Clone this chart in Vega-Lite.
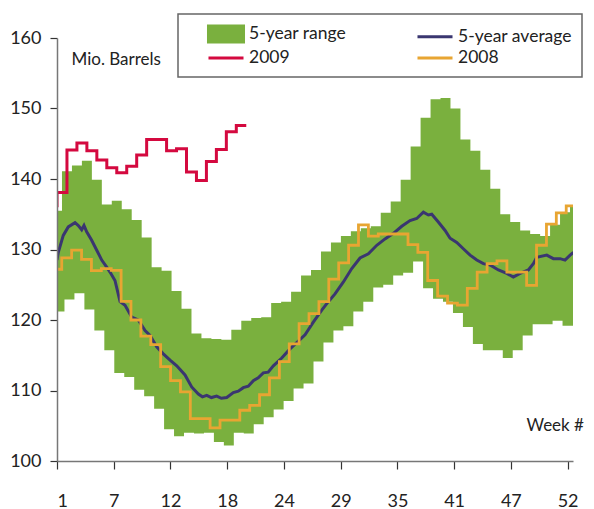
{
  "$schema": "https://vega.github.io/schema/vega-lite/v6.json",
  "autosize": {"type": "none"},
  "padding": {"left": 57, "top": 38, "right": 21, "bottom": 48},
  "width": 516,
  "height": 423,
  "background": "white",
  "config": {
    "view": {"stroke": null},
    "font": "Lato",
    "axis": {"grid": false, "zindex": 1},
    "legend": {"strokeWidth": 1.5}
  },
  "datasets": {
    "upper": [
      {"week": 1, "value": 135.5}, {"week": 2, "value": 141.1}, {"week": 3, "value": 141.9}, {"week": 4, "value": 142.6},
      {"week": 5, "value": 139.9}, {"week": 6, "value": 136.4}, {"week": 7, "value": 136.9}, {"week": 8, "value": 135.7},
      {"week": 9, "value": 134.2}, {"week": 10, "value": 131.7}, {"week": 11, "value": 127.5}, {"week": 12, "value": 127.0},
      {"week": 13, "value": 124.1}, {"week": 14, "value": 121.6}, {"week": 15, "value": 118.1}, {"week": 16, "value": 117.4},
      {"week": 17, "value": 117.3}, {"week": 18, "value": 117.2}, {"week": 19, "value": 118.6}, {"week": 20, "value": 119.9},
      {"week": 21, "value": 120.3}, {"week": 22, "value": 120.4}, {"week": 23, "value": 122.4}, {"week": 24, "value": 122.6},
      {"week": 25, "value": 124.0}, {"week": 26, "value": 126.3}, {"week": 27, "value": 127.1}, {"week": 28, "value": 129.7},
      {"week": 29, "value": 131.0}, {"week": 30, "value": 131.9}, {"week": 31, "value": 132.6}, {"week": 32, "value": 133.0},
      {"week": 33, "value": 133.3}, {"week": 34, "value": 135.2}, {"week": 35, "value": 136.8}, {"week": 36, "value": 139.9},
      {"week": 37, "value": 144.6}, {"week": 38, "value": 148.7}, {"week": 39, "value": 151.3}, {"week": 40, "value": 151.5},
      {"week": 41, "value": 150.0}, {"week": 42, "value": 145.6}, {"week": 43, "value": 144.0}, {"week": 44, "value": 141.3},
      {"week": 45, "value": 138.6}, {"week": 46, "value": 135.0}, {"week": 47, "value": 133.9}, {"week": 48, "value": 132.7},
      {"week": 49, "value": 132.2}, {"week": 50, "value": 131.9}, {"week": 51, "value": 133.5}, {"week": 52, "value": 135.3},
      {"week": 53, "value": 136.2}
    ],
    "lower": [
      {"week": 0.25, "value": 121.2}, {"week": 1.25, "value": 121.2}, {"week": 2.25, "value": 122.9}, {"week": 3.25, "value": 123.8},
      {"week": 4.25, "value": 121.5}, {"week": 5.25, "value": 118.5}, {"week": 6.25, "value": 115.7}, {"week": 7.25, "value": 112.5},
      {"week": 8.25, "value": 111.9}, {"week": 9.25, "value": 110.1}, {"week": 10.25, "value": 109.2}, {"week": 11.25, "value": 107.4},
      {"week": 12.25, "value": 104.5}, {"week": 13.25, "value": 103.5}, {"week": 14.25, "value": 104.0}, {"week": 15.25, "value": 103.9},
      {"week": 16.25, "value": 104.0}, {"week": 17.25, "value": 102.7}, {"week": 18.25, "value": 102.2}, {"week": 19.25, "value": 104.0},
      {"week": 20.25, "value": 103.9}, {"week": 21.25, "value": 105.2}, {"week": 22.25, "value": 106.2}, {"week": 23.25, "value": 107.3},
      {"week": 24.25, "value": 108.5}, {"week": 25.25, "value": 110.3}, {"week": 26.25, "value": 111.0}, {"week": 27.25, "value": 114.1},
      {"week": 28.25, "value": 116.8}, {"week": 29.25, "value": 118.5}, {"week": 30.25, "value": 119.1}, {"week": 31.25, "value": 121.2},
      {"week": 32.25, "value": 122.6}, {"week": 33.25, "value": 124.6}, {"week": 34.25, "value": 125.0}, {"week": 35.25, "value": 126.3},
      {"week": 36.25, "value": 126.7}, {"week": 37.25, "value": 128.3}, {"week": 38.25, "value": 124.5}, {"week": 39.25, "value": 123.0},
      {"week": 40.25, "value": 122.6}, {"week": 41.25, "value": 121.0}, {"week": 42.25, "value": 119.0}, {"week": 43.25, "value": 116.6},
      {"week": 44.25, "value": 115.7}, {"week": 45.25, "value": 115.7}, {"week": 46.25, "value": 114.6}, {"week": 47.25, "value": 115.7},
      {"week": 48.25, "value": 117.8}, {"week": 49.25, "value": 119.4}, {"week": 50.25, "value": 119.4}, {"week": 51.25, "value": 119.9},
      {"week": 52.25, "value": 119.2}, {"week": 53.25, "value": 119.2}
    ],
    "average": [
      {"week": 1.0, "value": 128.5}, {"week": 1.13, "value": 129.6}, {"week": 1.63, "value": 132.0}, {"week": 2.13, "value": 133.2},
      {"week": 2.81, "value": 133.8}, {"week": 3.14, "value": 133.4}, {"week": 3.48, "value": 132.8}, {"week": 3.71, "value": 133.4},
      {"week": 3.98, "value": 132.5}, {"week": 4.48, "value": 131.3}, {"week": 4.99, "value": 129.9}, {"week": 5.49, "value": 128.5},
      {"week": 5.99, "value": 127.5}, {"week": 6.32, "value": 126.8}, {"week": 6.82, "value": 125.6}, {"week": 7.33, "value": 122.6},
      {"week": 7.83, "value": 122.1}, {"week": 8.5, "value": 120.4}, {"week": 9.16, "value": 120.0}, {"week": 9.84, "value": 118.5},
      {"week": 10.34, "value": 117.8}, {"week": 11.01, "value": 116.2}, {"week": 11.67, "value": 115.2}, {"week": 12.35, "value": 114.3},
      {"week": 13.02, "value": 113.5}, {"week": 13.85, "value": 112.2}, {"week": 14.52, "value": 110.5}, {"week": 15.19, "value": 109.5},
      {"week": 15.6, "value": 109.1}, {"week": 16.03, "value": 109.3}, {"week": 16.5, "value": 109.0}, {"week": 17.03, "value": 109.2},
      {"week": 17.5, "value": 108.9}, {"week": 18.04, "value": 109.0}, {"week": 18.7, "value": 109.7},
      {"week": 19.2, "value": 109.9}, {"week": 19.7, "value": 110.4}, {"week": 20.2, "value": 110.6}, {"week": 20.71, "value": 111.4},
      {"week": 21.2, "value": 111.8}, {"week": 21.71, "value": 112.5}, {"week": 22.2, "value": 112.6}, {"week": 22.72, "value": 113.5},
      {"week": 23.56, "value": 114.6}, {"week": 24.39, "value": 115.9}, {"week": 25.23, "value": 117.0}, {"week": 25.9, "value": 117.9},
      {"week": 26.73, "value": 119.7}, {"week": 27.58, "value": 121.4}, {"week": 28.24, "value": 122.6}, {"week": 28.91, "value": 123.7},
      {"week": 29.75, "value": 125.4}, {"week": 30.59, "value": 127.3}, {"week": 31.42, "value": 128.8}, {"week": 32.26, "value": 129.4},
      {"week": 33.1, "value": 130.6}, {"week": 33.93, "value": 131.5}, {"week": 34.77, "value": 132.3}, {"week": 35.61, "value": 133.3},
      {"week": 36.44, "value": 134.1}, {"week": 37.11, "value": 134.4}, {"week": 37.78, "value": 135.3}, {"week": 38.28, "value": 134.9},
      {"week": 38.62, "value": 135.0}, {"week": 39.28, "value": 133.9}, {"week": 39.96, "value": 132.7}, {"week": 40.46, "value": 131.6},
      {"week": 41.13, "value": 131.0}, {"week": 41.79, "value": 130.1}, {"week": 42.47, "value": 129.2}, {"week": 43.14, "value": 128.5},
      {"week": 43.8, "value": 128.0}, {"week": 44.47, "value": 127.8}, {"week": 45.31, "value": 127.1}, {"week": 46.15, "value": 126.6},
      {"week": 46.81, "value": 126.1}, {"week": 47.49, "value": 126.6}, {"week": 48.32, "value": 127.1}, {"week": 48.82, "value": 128.0},
      {"week": 49.16, "value": 128.9}, {"week": 50.17, "value": 129.2}, {"week": 50.83, "value": 128.7}, {"week": 51.5, "value": 128.7},
      {"week": 52.0, "value": 128.5}, {"week": 52.51, "value": 129.2}, {"week": 52.84, "value": 129.6}
    ],
    "y2008": [
      {"week": 0.98, "value": 127.2}, {"week": 1.97, "value": 128.8}, {"week": 2.97, "value": 129.9}, {"week": 3.96, "value": 128.6},
      {"week": 4.95, "value": 127.0}, {"week": 5.95, "value": 127.3}, {"week": 6.94, "value": 127.05}, {"week": 7.93, "value": 122.65},
      {"week": 8.92, "value": 120.0}, {"week": 9.92, "value": 117.7}, {"week": 10.91, "value": 116.5}, {"week": 11.9, "value": 113.4},
      {"week": 12.9, "value": 111.4}, {"week": 13.89, "value": 109.8}, {"week": 14.88, "value": 106.0}, {"week": 15.87, "value": 106.0},
      {"week": 16.87, "value": 104.7}, {"week": 17.86, "value": 105.8}, {"week": 18.85, "value": 105.8}, {"week": 19.85, "value": 107.2},
      {"week": 20.84, "value": 107.9}, {"week": 21.83, "value": 109.4}, {"week": 22.83, "value": 111.8}, {"week": 23.82, "value": 114.1},
      {"week": 24.81, "value": 116.6}, {"week": 25.8, "value": 119.5}, {"week": 26.8, "value": 120.9}, {"week": 27.79, "value": 122.6},
      {"week": 28.78, "value": 125.8}, {"week": 29.78, "value": 128.1}, {"week": 30.77, "value": 130.6}, {"week": 31.76, "value": 133.5},
      {"week": 32.76, "value": 131.9}, {"week": 33.75, "value": 132.2}, {"week": 34.74, "value": 132.2}, {"week": 35.74, "value": 132.2},
      {"week": 36.73, "value": 130.7}, {"week": 37.72, "value": 129.6}, {"week": 38.71, "value": 125.6}, {"week": 39.71, "value": 123.4},
      {"week": 40.7, "value": 122.4}, {"week": 41.69, "value": 122.1}, {"week": 42.69, "value": 124.5}, {"week": 43.68, "value": 126.8},
      {"week": 44.67, "value": 128.0}, {"week": 45.67, "value": 128.4}, {"week": 46.66, "value": 126.8}, {"week": 47.65, "value": 126.8},
      {"week": 48.64, "value": 124.9}, {"week": 49.64, "value": 130.6}, {"week": 50.63, "value": 133.6}, {"week": 51.62, "value": 135.2},
      {"week": 52.62, "value": 136.2}, {"week": 52.85, "value": 136.2}
    ],
    "y2009": [
      {"week": 1, "value": 136.0}, {"week": 1, "value": 138.1}, {"week": 2, "value": 144.1}, {"week": 3, "value": 145.1},
      {"week": 4, "value": 144.0}, {"week": 5, "value": 142.7}, {"week": 6, "value": 141.6}, {"week": 7, "value": 140.9},
      {"week": 8, "value": 141.8}, {"week": 9, "value": 143.4}, {"week": 10, "value": 145.6}, {"week": 11, "value": 145.6},
      {"week": 12, "value": 144.0}, {"week": 13, "value": 144.3}, {"week": 14, "value": 141.0}, {"week": 15, "value": 139.8},
      {"week": 16, "value": 142.5}, {"week": 17, "value": 144.2}, {"week": 18, "value": 146.7}, {"week": 19, "value": 147.6},
      {"week": 20, "value": 147.6}
    ]
  },
  "encoding": {
    "x": {
      "field": "week", "type": "quantitative",
      "scale": {"domain": [1, 52.8], "nice": false, "zero": false},
      "axis": {
        "zindex": 2,
        "values": [1, 6.695, 12.39, 18.085, 23.78, 29.475, 35.17, 40.865, 46.56, 52.255],
        "labelExpr": "['1','7','12','18','24','29','35','41','47','52'][round((datum.value-1)/5.695)]",
        "title": "Week #",
        "titleX": 469, "titleY": -31, "titleAlign": "left", "titleAnchor": null, "titleBaseline": "alphabetic",
        "titleFont": "Lato", "titleFontSize": 17, "titleFontWeight": "normal", "titleColor": "#222",
        "labelFont": "Lato", "labelFontSize": 18, "labelColor": "#222", "labelPadding": 23,
        "tickSize": 8, "tickColor": "#333", "domainColor": "#777", "domainWidth": 1.5, "tickWidth": 1.2
      }
    },
    "y": {
      "field": "value", "type": "quantitative",
      "scale": {"domain": [100, 160], "nice": false, "zero": false},
      "axis": {
        "zindex": 2,
        "values": [100, 110, 120, 130, 140, 150, 160],
        "title": "Mio. Barrels",
        "titleAngle": 0, "titleX": 14, "titleY": 26, "titleAlign": "left", "titleAnchor": null, "titleBaseline": "alphabetic",
        "titleFont": "Lato", "titleFontSize": 17, "titleFontWeight": "normal", "titleColor": "#222",
        "labelFont": "Lato", "labelFontSize": 18, "labelColor": "#222", "labelPadding": 9,
        "tickSize": 7, "tickColor": "#333", "domainColor": "#777", "domainWidth": 1.5, "tickWidth": 1.2
      }
    }
  },
  "layer": [
    {
      "data": {"name": "upper"},
      "mark": {"type": "area", "interpolate": "step", "clip": true},
      "encoding": {
        "y2": {"datum": 100},
        "color": {
          "datum": "5-year range",
          "scale": {
            "domain": ["5-year range", "5-year average", "2009", "2008"],
            "range": ["#7AB03E", "#3A3670", "#D4093F", "#E8A532"]
          },
          "legend": {
            "title": "\u00a0",
            "titleOrient": "left",
            "titlePadding": 28,
            "titleFontSize": 17,
            "orient": "none",
            "legendX": 121,
            "legendY": -24,
            "direction": "horizontal",
            "columns": 2,
            "columnPadding": 64,
            "rowPadding": 0,
            "padding": 10,
            "strokeColor": "#666",
            "labelFont": "Lato",
            "labelFontSize": 17.5,
            "labelColor": "#222",
            "labelOffset": 13,
            "labelLimit": 300,
            "symbolSize": 289,
            "symbolStrokeWidth": 3,
            "encode": {
              "symbols": {
                "update": {
                  "shape": {"signal": "datum.value === '5-year range' ? 'M-2.06,-0.94H2.06V0.94H-2.06Z' : 'M-2.06,0H2.06'"},
                  "fill": {"signal": "datum.value === '5-year range' ? '#7AB03E' : 'transparent'"},
                  "stroke": {"signal": "datum.value === '5-year range' ? 'transparent' : datum.value === '5-year average' ? '#3A3670' : datum.value === '2009' ? '#D4093F' : '#E8A532'"},
                  "strokeWidth": {"value": 3},
                  "size": {"value": 289},
                  "opacity": {"value": 1}
                }
              }
            }
          }
        }
      }
    },
    {
      "data": {"name": "lower"},
      "mark": {"type": "area", "interpolate": "step", "clip": true, "fill": "white"},
      "encoding": {"y2": {"datum": 100}}
    },
    {
      "data": {"name": "average"},
      "mark": {"type": "line", "interpolate": "linear", "strokeWidth": 3, "clip": true},
      "encoding": {"color": {"datum": "5-year average"}}
    },
    {
      "data": {"name": "y2008"},
      "mark": {"type": "line", "interpolate": "step", "strokeWidth": 2.8, "clip": true},
      "encoding": {"color": {"datum": "2008"}}
    },
    {
      "data": {"name": "y2009"},
      "mark": {"type": "line", "interpolate": "step-after", "strokeWidth": 3, "clip": true},
      "encoding": {"color": {"datum": "2009"}}
    }
  ]
}
